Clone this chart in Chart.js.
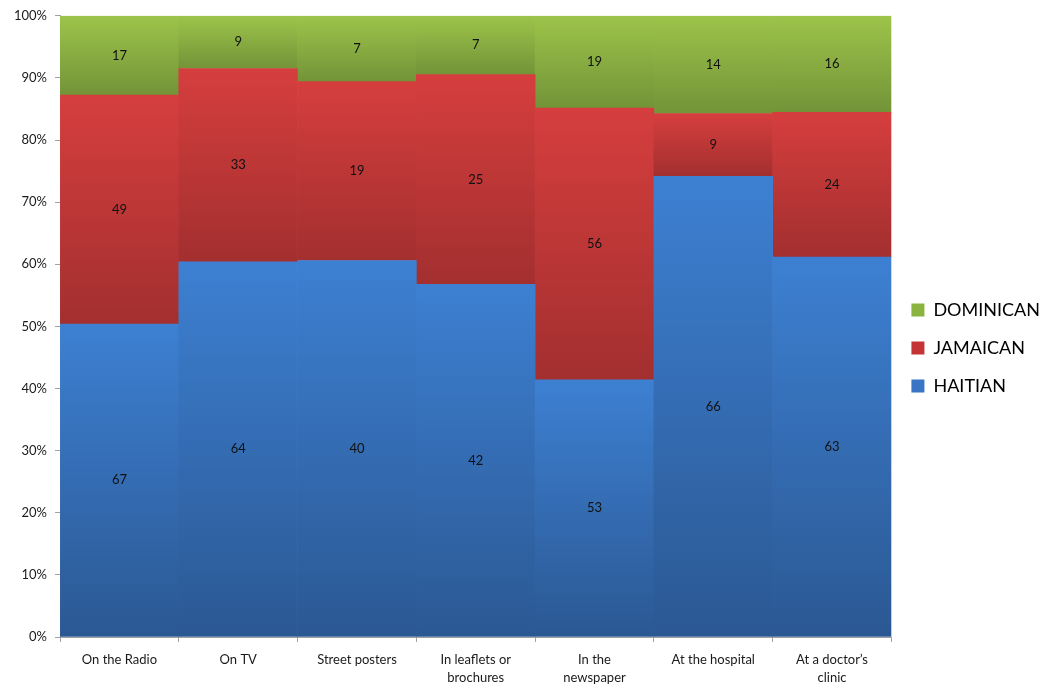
<!DOCTYPE html>
<html>
<head>
<meta charset="utf-8">
<script src="https://cdn.jsdelivr.net/npm/chart.js@4/dist/chart.umd.min.js"></script>
<style>
  html, body { margin: 0; padding: 0; background: #fff; }
  #wrap { width: 1054px; height: 689px; }
</style>
</head>
<body>
<div id="wrap"><canvas id="chart" width="1054" height="689"></canvas></div>
<script>
const categories = ["On the Radio", "On TV", "Street posters", ["In leaflets or", "brochures"],
    ["In the", "newspaper"], "At the hospital", ["At a doctor\u2019s", "clinic"]];
const haitian = [67, 64, 40, 42, 53, 66, 63];
const jamaican = [49, 33, 19, 25, 56, 9, 24];
const dominican = [17, 9, 7, 7, 19, 14, 16];

// each column is scaled to 100%
const totals = haitian.map((v, i) => v + jamaican[i] + dominican[i]);
const pct = arr => arr.map((v, i) => v / totals[i] * 100);

const counts = [haitian, jamaican, dominican];
// [top, bottom] of the gradient for each series
const shades = [
    ["#3d80d2", "#2b5893"],
    ["#d63e3e", "#a32f2f"],
    ["#9dc44a", "#739338"]
];
const legendColors = ["#3a74c4", "#c53434", "#8ab33f"];

function segmentFill(ctx) {
    const chart = ctx.chart;
    const y = chart.scales.y;
    const ds = ctx.datasetIndex;
    if (!y || !chart.chartArea || ctx.type !== "data") return legendColors[ds];
    let base = 0;
    for (let d = 0; d < ds; d++) base += chart.data.datasets[d].data[ctx.dataIndex];
    const top = base + chart.data.datasets[ds].data[ctx.dataIndex];
    const yTop = y.getPixelForValue(top);
    const yBot = y.getPixelForValue(base);
    if (!isFinite(yTop) || !isFinite(yBot) || yTop === yBot) return legendColors[ds];
    const g = chart.ctx.createLinearGradient(0, yTop, 0, yBot);
    g.addColorStop(0, shades[ds][0]);
    g.addColorStop(1, shades[ds][1]);
    return g;
}

const countLabels = {
    id: "countLabels",
    afterDatasetsDraw(chart) {
        const c = chart.ctx;
        c.save();
        c.font = "13px Lato";
        c.fillStyle = "#111";
        c.textAlign = "center";
        c.textBaseline = "middle";
        chart.data.datasets.forEach((ds, di) => {
            chart.getDatasetMeta(di).data.forEach((bar, i) => {
                const p = bar.getProps(["x", "y", "base"], true);
                c.fillText(String(counts[di][i]), p.x, (p.y + p.base) / 2);
            });
        });
        c.restore();
    }
};

new Chart(document.getElementById("chart"), {
    type: "bar",
    data: {
        labels: categories,
        datasets: [
            { label: "HAITIAN", data: pct(haitian) },
            { label: "JAMAICAN", data: pct(jamaican) },
            { label: "DOMINICAN", data: pct(dominican) }
        ].map((d, i) => Object.assign(d, {
            backgroundColor: segmentFill,
            borderWidth: 0,
            barPercentage: 1,
            categoryPercentage: 1
        }))
    },
    options: {
        responsive: false,
        animation: false,
        layout: { padding: { top: 7, left: 6, right: 4, bottom: 0 } },
        scales: {
            x: {
                stacked: true,
                afterFit(scale) { scale.height = 52; },
                grid: { drawOnChartArea: false, tickLength: 5, color: "#a0a0a0" },
                border: { color: "#a0a0a0" },
                ticks: { font: { family: "Lato", size: 13, lineHeight: 1.45 }, color: "#1a1a1a", padding: 8, maxRotation: 0, autoSkip: false }
            },
            y: {
                stacked: true,
                min: 0,
                max: 100,
                grid: { drawOnChartArea: false, tickLength: 5, color: "#a0a0a0" },
                border: { color: "#a0a0a0" },
                ticks: {
                    stepSize: 10,
                    font: { family: "Lato", size: 13 },
                    color: "#1a1a1a",
                    padding: 8,
                    callback: v => v + "%"
                }
            }
        },
        plugins: {
            tooltip: { enabled: false },
            legend: {
                position: "right",
                reverse: true,
                labels: {
                    boxWidth: 13,
                    boxHeight: 13,
                    padding: 20,
                    color: "#1a1a1a",
                    font: { family: "Lato", size: 18 },
                    generateLabels(chart) {
                        return chart.data.datasets.map((ds, i) => ({
                            text: ds.label,
                            fillStyle: legendColors[i],
                            strokeStyle: legendColors[i],
                            lineWidth: 0,
                            datasetIndex: i,
                            hidden: false
                        }));
                    }
                }
            }
        }
    },
    plugins: [countLabels]
});
</script>
</body>
</html>
